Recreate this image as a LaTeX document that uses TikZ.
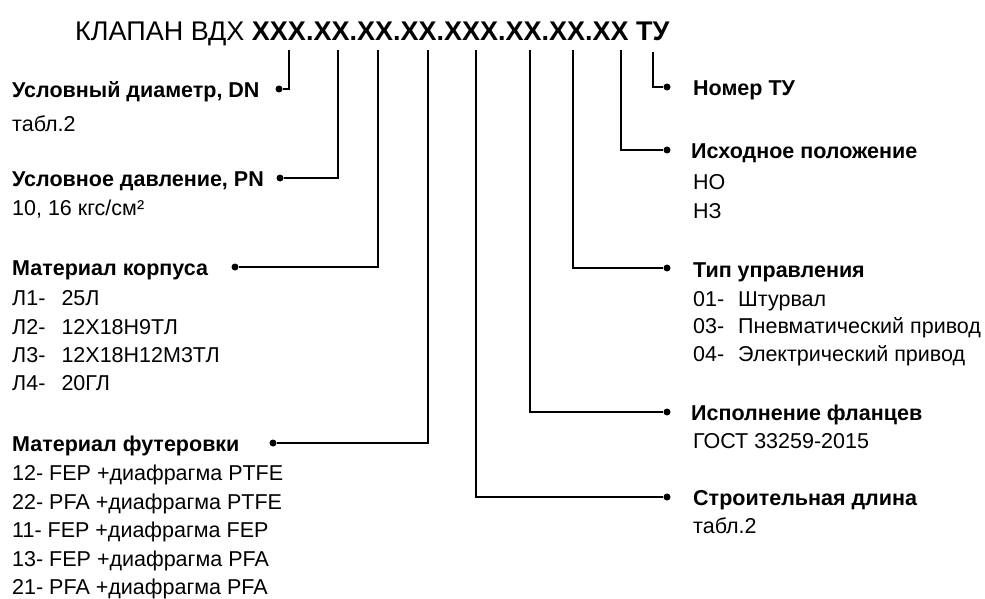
\documentclass[tikz,border=0pt]{standalone}
\usepackage{fontspec}
\setmainfont{Liberation Sans}
\begin{document}
\begin{tikzpicture}[x=1pt,y=-1pt,
  head/.style={anchor=base west, inner sep=0pt, font=\bfseries\fontsize{21.5}{24}\selectfont},
  item/.style={anchor=base west, inner sep=0pt, font=\fontsize{21.5}{24}\selectfont},
  dotnode/.style={circle, fill=black, inner sep=0pt, minimum size=7pt},
  link/.style={line width=2pt}]
\useasboundingbox (0,0) rectangle (985,599);
% title
\node[anchor=base west, inner sep=0pt, font=\fontsize{27}{30}\selectfont] (title) at (75,40.5)
  {КЛАПАН ВДХ \textbf{XXX.XX.XX.XX.XXX.XX.XX.XX ТУ}};
% top ends
\coordinate (tDN) at (289,50);
\coordinate (tPN) at (338,50);
\coordinate (tMK) at (378,50);
\coordinate (tMF) at (428,50);
\coordinate (tSD) at (476,50);
\coordinate (tIF) at (530,50);
\coordinate (tTU) at (573,50);
\coordinate (tIP) at (621,50);
\coordinate (tNT) at (653,52);
% left blocks
\node[head] (hDN) at (12,97.5) {Условный диаметр, DN};
\node[item] (iDN) at (12,131.5) {табл.2};
\node[dotnode] (dDN) at (279,89) {};
\node[head] (hPN) at (12,186) {Условное давление, PN};
\node[item] (iPN) at (12,215) {10, 16 кгс/см²};
\node[dotnode] (dPN) at (280,178) {};
\node[head] (hMK) at (12,275.5) {Материал корпуса};
\node[item] (iMK1) at (12,305.5) {Л1-\hspace{0.75em}25Л};
\node[item] (iMK2) at (12,334) {Л2-\hspace{0.75em}12Х18Н9ТЛ};
\node[item] (iMK3) at (12,362) {Л3-\hspace{0.75em}12Х18Н12М3ТЛ};
\node[item] (iMK4) at (12,390.5) {Л4-\hspace{0.75em}20ГЛ};
\node[dotnode] (dMK) at (235,267) {};
\node[head] (hMF) at (12,451) {Материал футеровки};
\node[item] (iMF1) at (12,480.5) {12- FEP +диафрагма PTFE};
\node[item] (iMF2) at (12,509) {22- PFA +диафрагма PTFE};
\node[item] (iMF3) at (12,537.5) {11- FEP +диафрагма FEP};
\node[item] (iMF4) at (12,566) {13- FEP +диафрагма PFA};
\node[item] (iMF5) at (12,594.5) {21- PFA +диафрагма PFA};
\node[dotnode] (dMF) at (273,443) {};
% right blocks
\node[head] (hNT) at (693,96) {Номер ТУ};
\node[dotnode] (dNT) at (667,87) {};
\node[head] (hIP) at (691,158.5) {Исходное положение};
\node[item] (iIP1) at (693,189.5) {НО};
\node[item] (iIP2) at (693,218.5) {НЗ};
\node[dotnode] (dIP) at (667,150) {};
\node[head] (hTU) at (693,277.5) {Тип управления};
\node[item] (iTU1) at (693,306) {01-\hspace{0.65em}Штурвал};
\node[item] (iTU2) at (693,333.5) {03-\hspace{0.65em}Пневматический привод};
\node[item] (iTU3) at (693,361) {04-\hspace{0.65em}Электрический привод};
\node[dotnode] (dTU) at (667,268) {};
\node[head] (hIF) at (691,420) {Исполнение фланцев};
\node[item] (iIF) at (693,448.5) {ГОСТ 33259-2015};
\node[dotnode] (dIF) at (667,412) {};
\node[head] (hSD) at (693,505) {Строительная длина};
\node[item] (iSD) at (693,533.5) {табл.2};
\node[dotnode] (dSD) at (667,497) {};
% connectors
\draw[link] (tDN) |- (dDN);
\draw[link] (tPN) |- (dPN);
\draw[link] (tMK) |- (dMK);
\draw[link] (tMF) |- (dMF);
\draw[link] (tSD) |- (dSD);
\draw[link] (tIF) |- (dIF);
\draw[link] (tTU) |- (dTU);
\draw[link] (tIP) |- (dIP);
\draw[link] (tNT) |- (dNT);
\end{tikzpicture}
\end{document}
